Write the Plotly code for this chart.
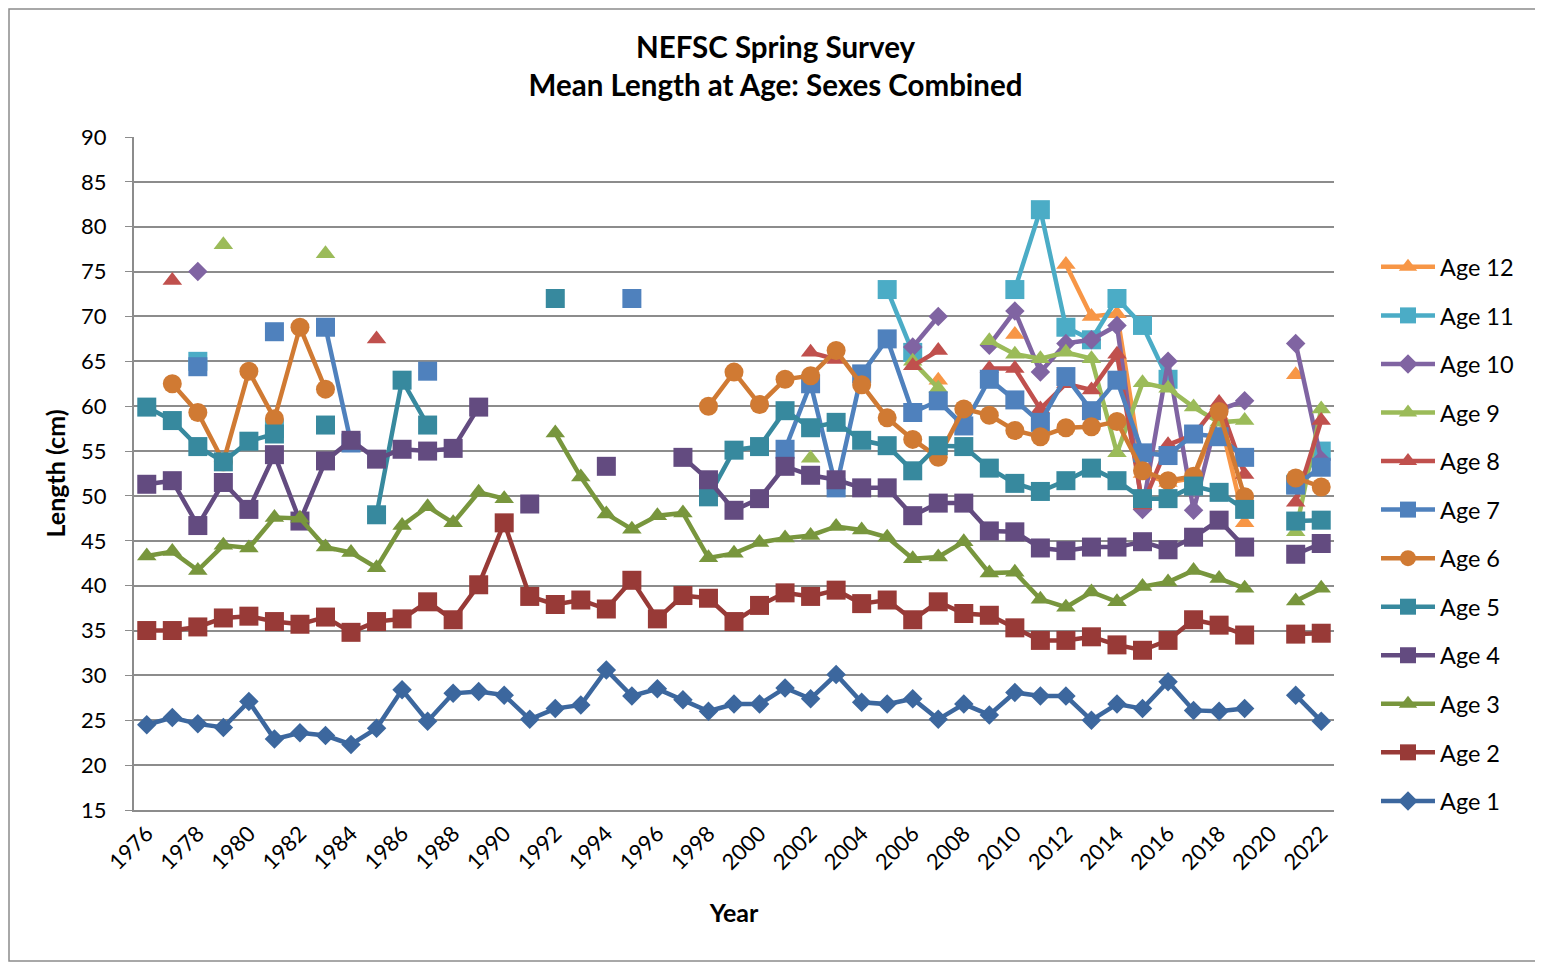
import plotly.graph_objects as go

years = list(range(1976, 2023))
N = None

age1 = [24.5, 25.3, 24.6, 24.2, 27.1, 22.9, 23.6, 23.3, 22.3, 24.1,
        28.4, 24.9, 28.0, 28.2, 27.8, 25.1, 26.3, 26.7, 30.6, 27.7,
        28.5, 27.3, 26.0, 26.8, 26.8, 28.6, 27.4, 30.1, 27.0, 26.8,
        27.4, 25.1, 26.8, 25.6, 28.1, 27.7, 27.7, 25.0, 26.8, 26.3,
        29.3, 26.1, 26.0, 26.3, N, 27.8, 24.9]
age2 = [35.0, 35.0, 35.4, 36.4, 36.6, 36.0, 35.7, 36.5, 34.8, 36.0,
        36.3, 38.2, 36.2, 40.1, 47.0, 38.8, 37.9, 38.4, 37.4, 40.6,
        36.3, 38.9, 38.6, 36.0, 37.8, 39.2, 38.8, 39.5, 38.0, 38.4,
        36.2, 38.2, 36.9, 36.7, 35.3, 33.9, 33.9, 34.3, 33.4, 32.8,
        33.9, 36.2, 35.6, 34.5, N, 34.6, 34.7]
age3 = [43.3, 43.8, 41.7, 44.5, 44.2, 47.6, 47.5, 44.3, 43.7, 42.0,
        46.7, 48.8, 47.0, 50.4, 49.7, N, 57.0, 52.1, 48.0, 46.3,
        47.8, 48.1, 43.1, 43.6, 44.8, 45.3, 45.6, 46.6, 46.2, 45.4,
        43.0, 43.2, 44.9, 41.4, 41.5, 38.5, 37.6, 39.3, 38.2, 39.9,
        40.4, 41.7, 40.8, 39.7, N, 38.3, 39.7]
age4 = [51.3, 51.7, 46.7, 51.5, 48.5, 54.6, 47.2, 53.9, 56.2, 54.1,
        55.2, 55.0, 55.3, 59.9, N, 49.1, N, N, 53.3, N,
        N, 54.3, 51.8, 48.4, 49.7, 53.3, 52.3, 51.8, 50.9, 50.9,
        47.8, 49.2, 49.2, 46.1, 46.0, 44.2, 43.9, 44.3, 44.3, 44.9,
        44.0, 45.4, 47.3, 44.3, N, 43.5, 44.7]
age5 = [59.9, 58.4, 55.5, 53.8, 56.1, 56.9, N, 57.9, N, 47.9,
        62.9, 57.9, N, N, N, N, 72.0, N, N, N,
        N, N, 49.9, 55.1, 55.5, 59.5, 57.6, 58.2, 56.2, 55.6,
        52.8, 55.6, 55.5, 53.1, 51.4, 50.5, 51.7, 53.1, 51.7, 49.7,
        49.7, 51.1, 50.4, 48.5, N, 47.2, 47.3]
age6 = [N, 62.5, 59.3, 53.8, 63.9, 58.6, 68.8, 61.9, N, N,
        N, N, N, N, N, N, N, N, N, N,
        N, N, 60.0, 63.8, 60.2, 63.0, 63.4, 66.2, 62.4, 58.7,
        56.3, 54.3, 59.7, 59.0, 57.3, 56.6, 57.6, 57.7, 58.3, 52.8,
        51.7, 52.2, 59.4, 49.9, N, 52.0, 51.0]
age7 = [N, N, 64.4, N, N, 68.3, N, 68.8, 55.9, N,
        N, 63.9, N, N, N, N, N, N, N, 72.0,
        N, N, N, N, N, 55.2, 62.5, 50.9, 63.6, 67.5,
        59.3, 60.6, 57.8, 63.0, 60.7, 58.2, 63.3, 59.5, 62.9, 54.8,
        54.5, 56.9, 56.6, 54.3, N, 51.2, 53.2]
age8 = [N, 74.0, N, N, N, N, N, N, N, 67.5,
        N, N, N, N, N, N, N, N, N, N,
        N, N, N, N, N, N, 66.0, 65.2, N, N,
        64.5, 66.2, N, 64.2, 64.2, 59.7, 62.5, 61.8, 65.8, 49.0,
        55.7, 56.8, 60.4, 52.4, N, 49.3, 58.4]
age9 = [N, N, N, 78.0, N, N, N, 77.0, N, N,
        N, N, N, N, N, N, N, N, N, N,
        N, N, N, N, N, N, 54.2, N, N, N,
        65.0, 62.0, N, 67.3, 65.8, 65.3, 66.0, 65.3, 54.8, 62.6,
        62.0, 59.9, 58.2, 58.4, N, 46.0, 59.7]
age10 = [N, N, 75.0, N, N, N, N, N, N, N,
         N, N, N, N, N, N, N, N, N, N,
         N, N, N, N, N, N, N, N, N, N,
         66.6, 70.0, N, 66.8, 70.6, 63.8, 67.0, 67.4, 69.0, 48.5,
         65.0, 48.4, 59.6, 60.6, N, 67.0, 54.0]
age11 = [N, N, 65.0, N, N, 57.5, N, N, N, N,
         N, N, N, N, N, N, N, N, N, N,
         N, N, N, N, N, N, N, N, N, 73.0,
         66.0, N, N, N, 73.0, 81.9, 68.8, 67.4, 72.0, 69.0,
         63.0, N, N, N, N, 51.3, 55.0]
age12 = [N, N, N, N, N, N, N, N, N, N,
         N, N, N, N, N, N, N, N, N, N,
         N, N, N, N, N, N, N, N, N, N,
         N, 62.9, N, N, 68.0, N, 75.8, 70.0, 70.3, 52.5,
         51.5, 52.0, 59.0, 47.0, N, 63.5, N]

# drawn Age 12 first so Age 1 ends up on top, as in the original
series = [
    ("Age 12", age12, "#F79646", "triangle-up", 17),
    ("Age 11", age11, "#4BACC6", "square", 19),
    ("Age 10", age10, "#8064A2", "diamond", 15),
    ("Age 9", age9, "#9BBB59", "triangle-up", 17),
    ("Age 8", age8, "#C0504D", "triangle-up", 17),
    ("Age 7", age7, "#4F81BD", "square", 19),
    ("Age 6", age6, "#D07A33", "circle", 19),
    ("Age 5", age5, "#37899E", "square", 19),
    ("Age 4", age4, "#634B80", "square", 19),
    ("Age 3", age3, "#78963D", "triangle-up", 17),
    ("Age 2", age2, "#983A37", "square", 19),
    ("Age 1", age1, "#3C679E", "diamond", 15),
]

FONT = "Lato"
GREY = "#8c8c8c"

fig = go.Figure()
for name, vals, color, symbol, size in series:
    fig.add_trace(go.Scatter(
        x=years, y=vals, name=name, mode="lines+markers",
        connectgaps=False, legendgroup=name,
        line=dict(color=color, width=4.5),
        marker=dict(symbol=symbol, size=size, color=color),
    ))

# page body has an 8px margin, so the figure is sized to fit the window
fig.update_layout(
    width=1535, height=956,
    paper_bgcolor="white", plot_bgcolor="white",
    margin=dict(l=126, r=209, t=129, b=154),
    font=dict(family=FONT, size=22, color="#000000"),
    title=dict(
        text="<b>NEFSC Spring Survey<br>Mean Length at Age: Sexes Combined</b>",
        x=0.5, xanchor="center", xref="container",
        y=1 - 49.5 / 956, yanchor="middle",
        font=dict(family=FONT, size=29.5, color="#000000"),
    ),
    xaxis=dict(
        range=[1975.5, 2022.5], tickvals=years[::2], tickangle=-45,
        showgrid=False, zeroline=False,
        showline=True, linecolor=GREY, linewidth=2,
        tickfont=dict(size=22),
        title=dict(text="<b>Year</b>", font=dict(size=25), standoff=31),
    ),
    yaxis=dict(
        range=[15, 90], dtick=5, tick0=15,
        showgrid=True, gridcolor=GREY, gridwidth=2,
        zeroline=False, showline=True, linecolor=GREY, linewidth=2,
        ticks="outside", ticklen=7, tickcolor=GREY,
        ticklabelstandoff=14,
        tickfont=dict(size=22),
        title=dict(text="<b>Length (cm)</b>", font=dict(size=25), standoff=8),
    ),
    legend=dict(
        x=1.035, xanchor="left", y=0.41, yanchor="middle",
        traceorder="grouped", tracegroupgap=15,
        font=dict(family=FONT, size=23.5),
        itemwidth=54,
    ),
    shapes=[dict(
        type="rect", xref="paper", yref="paper",
        x0=-125 / 1200, x1=1406 / 1200, y0=-151 / 673, y1=801 / 673,
        line=dict(color=GREY, width=1.5),
    )],
)

fig.write_html("out.html")
